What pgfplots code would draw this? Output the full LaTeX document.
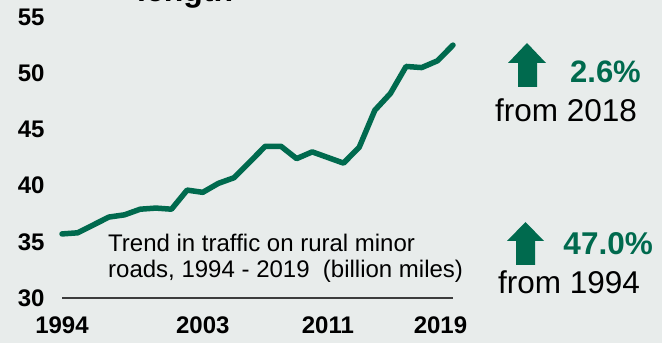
\documentclass[border=0pt]{standalone}
\usepackage{pgfplots}
\pgfplotsset{compat=1.18}
\usepackage{fontspec}
\setmainfont{Liberation Sans}
\definecolor{bg}{RGB}{232,236,235}
\definecolor{dftgreen}{RGB}{0,106,78}
\definecolor{axgrey}{RGB}{60,60,60}
\pgfplotstableread{
year value
1994 35.7
1995 35.8
1996 36.5
1997 37.2
1998 37.4
1999 37.9
2000 38.0
2001 37.9
2002 39.6
2003 39.4
2004 40.2
2005 40.7
2006 42.1
2007 43.5
2008 43.5
2009 42.4
2010 43.0
2011 42.5
2012 42.0
2013 43.4
2014 46.7
2015 48.2
2016 50.6
2017 50.5
2018 51.1
2019 52.5
}\traffic
\begin{document}
\begin{tikzpicture}
\fill[bg] (0pt,0pt) rectangle (662pt,343pt);
\begin{axis}[
  at={(62pt,45pt)}, anchor=south west,
  scale only axis, width=391pt, height=281pt,
  xmin=1994, xmax=2019, ymin=30, ymax=55,
  axis x line=bottom, axis y line=left,
  x axis line style={-, draw=axgrey, line width=1.8pt},
  y axis line style={draw=none},
  xtick={1994,2003,2011,2018.2}, xticklabels={1994,2003,2011,2019},
  ytick={30,35,40,45,50,55},
  major tick length=0pt,
  tick label style={font=\fontsize{24}{28}\selectfont\bfseries},
  /pgf/number format/assume math mode=true,
  yticklabel style={xshift=-14pt},
  xticklabel style={yshift=-15pt},
  clip=false,
]
\addplot[dftgreen, line width=5.5pt, line join=round, line cap=round] table[x=year,y=value] {\traffic};
\end{axis}
% title (cut off at top)
\node[anchor=base west, inner sep=0pt, font=\fontsize{32}{36}\selectfont\bfseries] at (137pt,341.5pt) {length};
% annotation
\node[anchor=base west, inner sep=0pt, font=\fontsize{24}{28}\selectfont] at (108pt,91pt) {Trend in traffic on rural minor};
\node[anchor=base west, inner sep=0pt, font=\fontsize{24}{28}\selectfont] at (108pt,65pt) {roads, 1994 - 2019~ (billion miles)};
% arrows
\fill[dftgreen] (527pt,300pt) -- (546pt,280pt) -- (537pt,280pt) -- (537pt,256pt) -- (518pt,256pt) -- (518pt,280pt) -- (508pt,280pt) -- cycle;
\fill[dftgreen] (525.5pt,121pt) -- (544pt,102pt) -- (535pt,102pt) -- (535pt,78pt) -- (516pt,78pt) -- (516pt,102pt) -- (507pt,102pt) -- cycle;
% change texts
\node[anchor=base east, inner sep=0pt, text=dftgreen, font=\fontsize{31}{35}\selectfont\bfseries] at (641pt,260pt) {2.6\%};
\node[anchor=base west, inner sep=0pt, font=\fontsize{31.5}{35}\selectfont] at (495pt,221pt) {from 2018};
\node[anchor=base east, inner sep=0pt, text=dftgreen, font=\fontsize{31.5}{35}\selectfont\bfseries] at (653pt,88pt) {47.0\%};
\node[anchor=base west, inner sep=0pt, font=\fontsize{31.5}{35}\selectfont] at (498pt,49pt) {from 1994};
\pgfresetboundingbox
\useasboundingbox (0pt,0pt) rectangle (662pt,343pt);
\end{tikzpicture}
\end{document}
